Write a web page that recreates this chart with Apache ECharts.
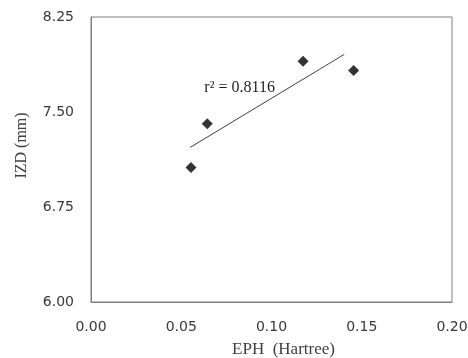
<!DOCTYPE html>
<html><head><meta charset="utf-8">
<script src="https://cdn.jsdelivr.net/npm/echarts@6/dist/echarts.min.js"></script>
<style>html,body{margin:0;padding:0;background:#fff}#c{width:468px;height:358px}</style>
</head><body><div id="c"></div>
<script>
const xTicks = [0.00, 0.05, 0.10, 0.15, 0.20];
const yTicks = [6.00, 6.75, 7.50, 8.25];
const ephX = [0.0554, 0.0644, 0.1175, 0.1455];
const izdY = [7.061, 7.408, 7.900, 7.827];
const trendX = [0.055, 0.1403];
const trendY = [7.221, 7.955];
const r2Label = 'r² = 0.8116';
const r2Pos = [0.0628, 7.695];

const chart = echarts.init(document.getElementById('c'), null, {renderer: 'canvas'});
chart.setOption({
  animation: false,
  backgroundColor: '#fff',
  grid: {left: 91, right: 16, top: 17, bottom: 56, show: true, borderColor: '#7f7f7f', borderWidth: 1,
    containLabel: false, outerBoundsMode: 'none'},
  xAxis: {
    type: 'value', min: xTicks[0], max: xTicks[xTicks.length-1], interval: 0.05,
    name: 'EPH  (Hartree)', nameLocation: 'middle', nameGap: 39,
    nameTextStyle: {fontFamily: 'Liberation Serif', fontSize: 17, color: '#404040', padding: [0, 0, 0, 24]},
    axisLine: {show: true, lineStyle: {color: '#7f7f7f'}}, axisTick: {show: false}, splitLine: {show: false},
    axisLabel: {formatter: v => v.toFixed(2), fontFamily: 'DejaVu Sans', fontSize: 14, color: '#383838', margin: 18}
  },
  yAxis: {
    type: 'value', min: yTicks[0], max: yTicks[yTicks.length-1], interval: 0.75,
    name: 'IZD (mm)', nameLocation: 'middle', nameGap: 61, nameRotate: 90,
    nameTextStyle: {fontFamily: 'Liberation Serif', fontSize: 16, color: '#404040', padding: [0, 0, 0, 28]},
    axisLine: {show: true, lineStyle: {color: '#7f7f7f'}}, axisTick: {show: false}, splitLine: {show: false},
    axisLabel: {formatter: v => v.toFixed(2), fontFamily: 'DejaVu Sans', fontSize: 14, color: '#383838', margin: 17}
  },
  series: [
    {
      type: 'line', data: trendX.map((x, i) => [x, trendY[i]]), symbol: 'none',
      lineStyle: {color: '#404040', width: 1}, z: 1,
      markPoint: {
        symbol: 'circle', symbolSize: 0,
        data: [{coord: r2Pos, label: {show: true, formatter: r2Label, position: 'right', distance: 0,
          fontFamily: 'Liberation Serif', fontSize: 16, color: '#1f1f1f'}}]
      }
    },
    {
      type: 'scatter', data: ephX.map((x, i) => [x, izdY[i]]), symbol: 'diamond', symbolSize: [11, 11],
      itemStyle: {color: '#000'}, z: 3
    }
  ]
});
</script></body></html>
